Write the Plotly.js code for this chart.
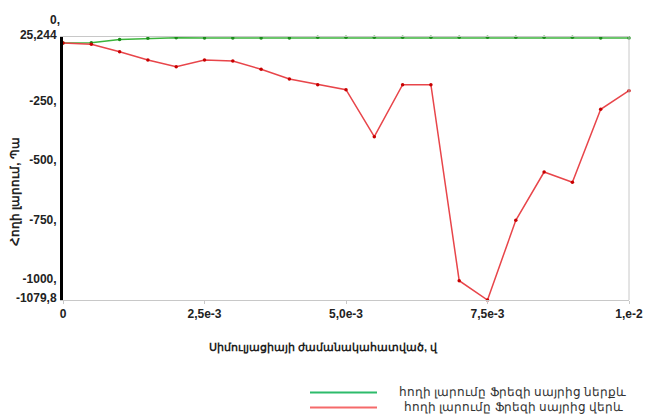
<!DOCTYPE html>
<html>
<head>
<meta charset="utf-8">
<script src="https://cdn.plot.ly/plotly-3.0.1.min.js"></script>
<style>html,body{margin:0;padding:0;background:#fff;}#chart{width:645px;height:414px;}</style>
</head>
<body>
<div id="chart"></div>
<script>
const timeSteps = [0,0.0005,0.001,0.0015,0.002,0.0025,0.003,0.0035,0.004,0.0045,0.005,0.0055,0.006,0.0065,0.007,0.0075,0.008,0.0085,0.009,0.0095,0.01];
const stressBelow = [0,1,15,20,22,21,21,21,21,24,24,24,24,24,24,24,24,24,24,21,21];
const stressAbove = [0,-5.5,-36.5,-71.4,-99.6,-71.4,-75.6,-110.5,-151.3,-175.3,-196.3,-393.7,-175.3,-175.3,-998.7,-1079.8,-745,-542,-585,-278.6,-200.4];
const seriesNames = ["հողի լարումը Ֆրեզի սայրից ներքև","հողի լարումը Ֆրեզի սայրից վերև"];
const xTickVals = [0,0.0025,0.005,0.0075,0.01];
const xTickText = ["0","2,5e-3","5,0e-3","7,5e-3","1,e-2"];
const yTickVals = [-1079.8,-1000,-750,-500,-250,25.244];
const yTickText = ["-1079,8","-1000,","-750,","-500,","-250,","25,244"];
const yMin = -1079.8, yMax = 25.244;

const tickFont = {family:"Liberation Sans, Arial, sans-serif", size:12, color:"#222", weight:"bold"};

const traces = [
  {x:timeSteps, y:stressBelow, name:seriesNames[0], mode:"lines+markers",
   line:{color:"#3cb43c", width:1.5}, marker:{color:"#1a8c1a", size:3.5}, showlegend:false, cliponaxis:false},
  {x:timeSteps, y:stressAbove, name:seriesNames[1], mode:"lines+markers",
   line:{color:"#e8454a", width:1.5}, marker:{color:"#c80000", size:3.5}, showlegend:false, cliponaxis:false}
];

const layout = {
  width:645, height:414,
  margin:{l:63, r:16, t:37, b:114},
  paper_bgcolor:"#fff", plot_bgcolor:"#fff",
  showlegend:false,
  xaxis:{range:[0,0.01], tickvals:xTickVals, ticktext:xTickText, showgrid:false, zeroline:false,
         showline:true, linecolor:"#c8c8c8", linewidth:1, mirror:true, ticks:"outside", ticklen:3, tickcolor:"#c8c8c8",
         tickfont:tickFont},
  yaxis:{range:[yMin,yMax], tickvals:yTickVals, ticktext:yTickText, showgrid:false, zeroline:false,
         showline:true, linecolor:"#000", linewidth:3, ticks:"", ticklabelstandoff:1, ticklabelshift:-2,
         tickfont:tickFont},
  shapes:[
    {type:"line", xref:"paper", yref:"paper", x0:1, x1:1, y0:0, y1:1, line:{color:"#c8c8c8", width:1}},
    {type:"line", xref:"paper", yref:"paper", x0:(310-63)/566, x1:(377-63)/566, y0:(300-392.5)/263, y1:(300-392.5)/263, line:{color:"#2dbb6b", width:2}},
    {type:"line", xref:"paper", yref:"paper", x0:(310-63)/566, x1:(377-63)/566, y0:(300-407.5)/263, y1:(300-407.5)/263, line:{color:"#f56a6a", width:2}}
  ],
  annotations:[
    {text:"0,", xref:"paper", yref:"paper", x:0, y:(300-20)/263, xanchor:"right", yanchor:"middle", showarrow:false, font:tickFont, xshift:-1},
    {text:"Սիմուլյացիայի ժամանակահատված, վ", xref:"paper", yref:"paper", x:(323-63)/566, y:(300-347)/263, xanchor:"center", yanchor:"middle", showarrow:false, font:{family:"Liberation Sans, Arial, sans-serif", size:11, color:"#222", weight:"bold"}},
    {text:"Հողի լարում, Պա", xref:"paper", yref:"paper", x:(15-63)/566, y:(300-192)/263, xanchor:"center", yanchor:"middle", textangle:-90, showarrow:false, font:{family:"Liberation Sans, Arial, sans-serif", size:12, color:"#222", weight:"bold"}},
    {text:seriesNames[0], xref:"paper", yref:"paper", x:(628-63)/566, y:(300-392)/263, xanchor:"right", yanchor:"middle", showarrow:false, font:{family:"Liberation Sans, Arial, sans-serif", size:12, color:"#333"}},
    {text:seriesNames[1], xref:"paper", yref:"paper", x:(625-63)/566, y:(300-407)/263, xanchor:"right", yanchor:"middle", showarrow:false, font:{family:"Liberation Sans, Arial, sans-serif", size:12, color:"#333"}}
  ]
};

Plotly.newPlot("chart", traces, layout, {displayModeBar:false, staticPlot:true});
</script>
</body>
</html>
